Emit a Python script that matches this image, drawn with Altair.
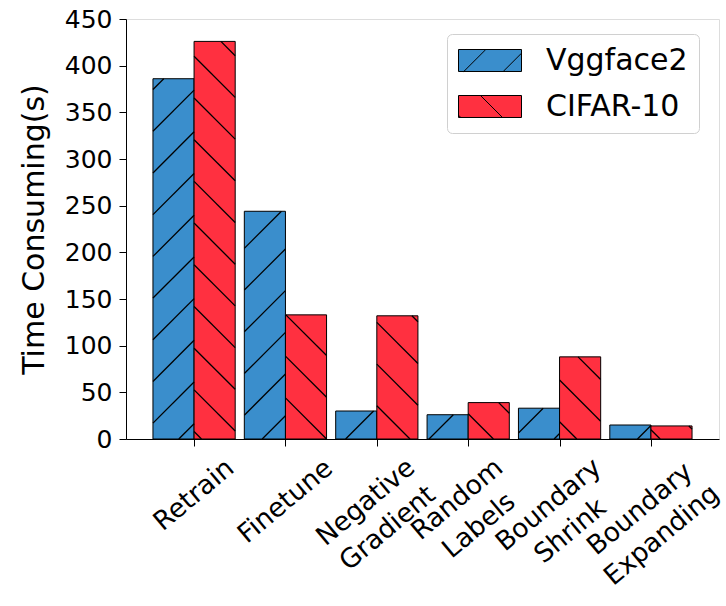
import math
import altair as alt
import pandas as pd

# ---------------- data ----------------
methods = ["Retrain", "Finetune", "Negative\nGradient", "Random\nLabels",
           "Boundary\nShrink", "Boundary\nExpanding"]
series = ["Vggface2", "CIFAR-10"]
vggface2 = [386, 244, 30, 26, 33, 15]
cifar10 = [426, 133, 132, 39, 88, 14]
y_ticks = [0, 50, 100, 150, 200, 250, 300, 350, 400, 450]
y_title = "Time Consuming(s)"

# ---------------- styling / layout ----------------
colors = ["#3a8ecc", "#ff3040"]
hatch_kind = ["/", "\\"]
W, H = 593, 420
BAR_W = 0.45
XMIN, XMAX = -0.745, 5.745
YMAX = 450
TICK_FS = 25
XLAB_FS = 26.5
TITLE_FS = 30
LEG_FS = 30
FONT = "DejaVu Sans"
PX_PER_UNIT = W / (XMAX - XMIN)

# hatch geometry (pixels)
SP = 41.7
PH_F = 14.1
PH_B = 30.8


def to_u(x):
    return (x - XMIN) / (XMAX - XMIN) * W


def to_v(y):
    return (1 - y / YMAX) * H


def from_u(u):
    return XMIN + u / W * (XMAX - XMIN)


def from_v(v):
    return YMAX * (1 - v / H)


values = [vggface2, cifar10]
bar_rows = []
seg_rows = []
for j, s in enumerate(series):
    for i, m in enumerate(methods):
        x0 = i - BAR_W if j == 0 else i
        x1 = x0 + BAR_W
        val = values[j][i]
        bar_rows.append({"series": s, "method": m, "x0": x0, "x1": x1, "value": val, "idx": i})
        u0, u1 = to_u(x0), to_u(x1)
        vt, vb = to_v(val), H
        if hatch_kind[j] == "/":
            k0 = math.ceil((u0 + vt - PH_F) / SP)
            k1 = math.floor((u1 + vb - PH_F) / SP)
            for k in range(k0, k1 + 1):
                c = k * SP + PH_F
                ua = max(u0, c - vb)
                ub = min(u1, c - vt)
                if ub - ua > 0.3:
                    seg_rows.append({"xa": from_u(ua), "ya": from_v(c - ua),
                                     "xb": from_u(ub), "yb": from_v(c - ub)})
        else:
            k0 = math.ceil((u0 - vb - PH_B) / SP)
            k1 = math.floor((u1 - vt - PH_B) / SP)
            for k in range(k0, k1 + 1):
                c = k * SP + PH_B
                ua = max(u0, c + vt)
                ub = min(u1, c + vb)
                if ub - ua > 0.3:
                    seg_rows.append({"xa": from_u(ua), "ya": from_v(ua - c),
                                     "xb": from_u(ub), "yb": from_v(ub - c)})

bars = pd.DataFrame(bar_rows)
segs = pd.DataFrame(seg_rows)

# x tick labels, placed like rotated, centred matplotlib labels
CW = {"R": .695, "e": .615, "t": .392, "r": .411, "a": .613, "i": .278, "n": .634,
      "F": .575, "u": .634, "N": .748, "g": .635, "v": .592, "G": .775, "d": .635,
      "o": .612, "m": .974, "L": .557, "b": .635, "l": .278, "s": .521, "B": .686,
      "y": .592, "S": .635, "h": .634, "k": .579, "E": .632, "x": .592, "p": .635}
ANG = math.radians(40)
LINE_H = 34
label_rows = []
for i, m in enumerate(methods):
    lines = m.split("\n")
    n = len(lines)
    w = max(sum(CW.get(ch, 0.6) for ch in ln) for ln in lines) * XLAB_FS
    h = XLAB_FS + LINE_H * (n - 1)
    v_center = H + 15 + (w * math.sin(ANG) + h * math.cos(ANG)) / 2
    # anchor sits on the first line: move it up by half the extra lines
    half = (n - 1) * LINE_H / 2
    lx = i - half * math.sin(ANG) / PX_PER_UNIT
    lv = v_center - half * math.cos(ANG)
    label_rows.append({"lx": lx, "label": m, "ly": from_v(lv)})
labels = pd.DataFrame(label_rows)

# legend symbols: rectangle + hatch drawn as a custom path
S = LEG_FS / 2  # path unit in px
RX0, RX1, RY = -1.0, -1.0 + 63 / S, 11 / S
blue_path = (f"M{RX0},{-RY:.3f}H{RX1:.3f}V{RY:.3f}H{RX0}Z"
             f"M{RX0 + 5.3 / S:.3f},{RY:.3f}L{RX0 + 27.3 / S:.3f},{-RY:.3f}"
             f"M{RX0 + 44.7 / S:.3f},{RY:.3f}L{RX1:.3f},{RY - 18.3 / S:.3f}")
red_path = (f"M{RX0},{-RY:.3f}H{RX1:.3f}V{RY:.3f}H{RX0}Z"
            f"M{RX0 + 22 / S:.3f},{-RY:.3f}L{RX0 + 44 / S:.3f},{RY:.3f}"
            f"M{RX0},{RY - 2.3 / S:.3f}L{RX0 + 2.3 / S:.3f},{RY:.3f}")

xscale = alt.Scale(domain=[XMIN, XMAX], nice=False, zero=False)
yscale = alt.Scale(domain=[0, YMAX], nice=False)
cscale = alt.Scale(domain=series, range=colors)
sscale = alt.Scale(domain=series, range=[blue_path, red_path])
kscale = alt.Scale(domain=series, range=["black", "black"])

leg = alt.Legend(title=None, orient="none", legendX=321, legendY=15,
                 padding=11, strokeColor="#d0d0d0", cornerRadius=5, fillColor="white",
                 labelFontSize=LEG_FS, labelFont=FONT, labelColor="black",
                 symbolSize=LEG_FS ** 2, symbolStrokeColor="black", symbolStrokeWidth=1,
                 labelOffset=57, rowPadding=15, labelLimit=400, symbolOpacity=1)

xaxis = alt.Axis(values=list(range(len(methods))), labels=False, title=None, grid=False,
                 tickSize=7, tickColor="black", domainColor="black")
yaxis = alt.Axis(values=y_ticks, title=y_title, grid=False, tickSize=7, tickColor="black",
                 domainColor="black", labelFontSize=TICK_FS, labelFont=FONT,
                 labelColor="black", labelPadding=7, titleFontSize=TITLE_FS,
                 titleFont=FONT, titleFontWeight="normal", titleColor="black",
                 titlePadding=15)

legend_pts = alt.Chart(bars).mark_point(filled=True, clip=True, size=LEG_FS ** 2,
                                        strokeWidth=1, opacity=1).encode(
    x=alt.X("idx:Q", scale=xscale, axis=xaxis),
    y=alt.datum(-1000, scale=yscale),
    color=alt.Color("series:N", scale=cscale, legend=leg),
    shape=alt.Shape("series:N", scale=sscale, legend=leg),
    stroke=alt.Stroke("series:N", scale=kscale, legend=leg),
)

bar_layer = alt.Chart(bars).mark_bar(strokeWidth=1).encode(
    x=alt.X("x0:Q", scale=xscale, axis=xaxis),
    x2="x1:Q",
    y=alt.Y("value:Q", scale=yscale, axis=yaxis),
    y2=alt.datum(0),
    color=alt.Color("series:N", scale=cscale, legend=leg),
    stroke=alt.Stroke("series:N", scale=kscale, legend=leg),
)

hatch_layer = alt.Chart(segs).mark_rule(color="black", strokeWidth=1.3).encode(
    x=alt.X("xa:Q", scale=xscale),
    y=alt.Y("ya:Q", scale=yscale),
    x2="xb:Q",
    y2="yb:Q",
)

label_layer = alt.Chart(labels).mark_text(
    angle=320, align="center", baseline="middle", lineBreak="\n",
    lineHeight=LINE_H, fontSize=XLAB_FS, font=FONT, color="black").encode(
    x=alt.X("lx:Q", scale=xscale),
    y=alt.Y("ly:Q", scale=yscale),
    text="label:N",
)

chart = alt.layer(legend_pts, bar_layer, hatch_layer, label_layer).properties(
    width=W, height=H,
    padding={"left": 126, "top": 19, "right": 7, "bottom": 167},
    autosize=alt.AutoSizeParams(type="none"),
    background="white",
).configure_view(stroke="black", strokeWidth=1).configure(font=FONT)

chart.save("out.html", embed_options={"renderer": "svg", "actions": False})
